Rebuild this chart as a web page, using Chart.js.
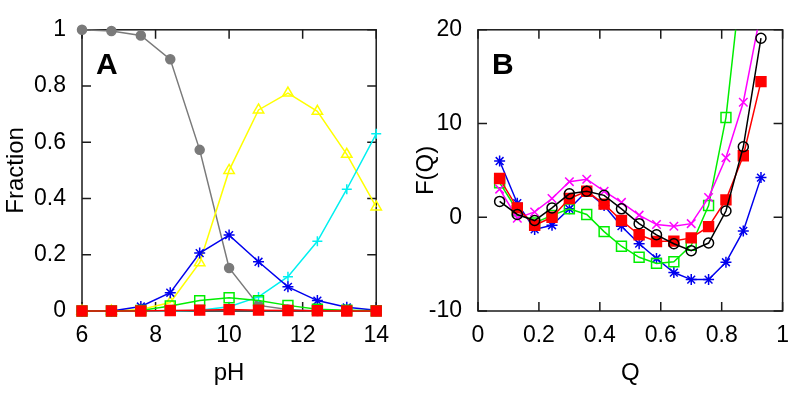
<!DOCTYPE html>
<html>
<head>
<meta charset="utf-8">
<script src="https://cdn.jsdelivr.net/npm/chart.js@4.4.1/dist/chart.umd.min.js"></script>
<style>
    html, body { margin: 0; padding: 0; background: #fff; }
    #wrap { position: relative; width: 800px; height: 395px; }
    .panel { position: absolute; top: 0; width: 400px; height: 395px; }
</style>
</head>
<body>
<div id="wrap">
    <div class="panel" style="left:0"><canvas id="chartA"></canvas></div>
    <div class="panel" style="left:400px"><canvas id="chartB"></canvas></div>
</div>
<script>
// --- panel A: fraction vs pH ---
const phValues = [6, 6.8, 7.6, 8.4, 9.2, 10, 10.8, 11.6, 12.4, 13.2, 14];
const grayFrac = [1, 0.996, 0.98, 0.895, 0.573, 0.153, 0.02, 0.005, 0, 0, 0];
const yellowFrac = [0, 0, 0.005, 0.03, 0.172, 0.5, 0.715, 0.775, 0.71, 0.557, 0.37];
const cyanFrac = [0, 0, 0, 0, 0.003, 0.015, 0.05, 0.122, 0.248, 0.433, 0.63];
const blueFrac = [0, 0, 0.016, 0.065, 0.206, 0.27, 0.175, 0.086, 0.037, 0.013, 0.003];
const greenFrac = [0, 0, 0.002, 0.018, 0.037, 0.047, 0.037, 0.02, 0.006, 0.003, 0.001];
const redFrac = [0, 0, 0, 0.002, 0.003, 0.005, 0.003, 0.002, 0.001, 0, 0];

// --- panel B: free energy vs Q ---
const qValues = [0.071, 0.129, 0.186, 0.243, 0.300, 0.357, 0.414, 0.471, 0.529, 0.586, 0.643, 0.700, 0.757, 0.814, 0.871, 0.929];
const blueF = [6.0, 1.5, -1.3, -0.85, 0.9, 2.78, 1.25, -0.95, -2.82, -4.4, -5.9, -6.65, -6.65, -4.8, -1.46, 4.23];
const redF = [4.13, 1.0, -0.85, 0, 2.0, 2.78, 1.4, -0.35, -1.87, -2.58, -2.54, -2.2, -1.0, 1.86, 6.57, 14.47];
const blackF = [1.69, 0.3, -0.35, 1.0, 2.5, 2.78, 2.34, 0.9, -0.68, -1.87, -2.82, -3.56, -2.75, 0.67, 7.52, 19.1];
const magentaF = [3.0, -0.1, 0.57, 2.0, 3.8, 4.06, 2.78, 1.59, 0.23, -0.78, -0.95, -0.68, 2.1, 6.34, 12.27, 22.0];
const greenF = [3.69, 0.7, -0.6, 0.2, 0.9, 0.3, -1.53, -3.09, -4.27, -4.92, -4.75, -2.99, 1.25, 10.64, 27.4, null];

const xTicksA = { min: 6, max: 14, step: 2 };
const yTicksA = { min: 0, max: 1, step: 0.2 };
const xTicksB = { min: 0, max: 1, step: 0.2 };
const yTicksB = { min: -10, max: 20, step: 10 };

const FONT = 'Liberation Sans, Arial, Helvetica, sans-serif';

function pts(xs, ys) {
    return xs.map((x, i) => ({ x, y: ys[i] }));
}

// plain number labels: 1 not 1.0
const fmt = v => String(Math.round(v * 100) / 100);

function series(label, xs, ys, color, style, radius, filled, order) {
    return {
        label,
        data: pts(xs, ys),
        borderColor: color,
        backgroundColor: filled ? color : 'rgba(0,0,0,0)',
        pointBackgroundColor: filled ? color : 'rgba(0,0,0,0)',
        pointBorderColor: color,
        pointStyle: style,
        pointRadius: radius,
        pointBorderWidth: 1.5,
        borderWidth: 1.5,
        tension: 0,
        spanGaps: false,
        order
    };
}

// frame box + inward ticks on all four sides
const frameTicks = {
    id: 'frameTicks',
    beforeDatasetsDraw(chart) {
        const { ctx, chartArea: a, scales: { x, y } } = chart;
        const len = 9;
        ctx.save();
        ctx.strokeStyle = '#1a1a1a';
        ctx.lineWidth = 1.5;
        ctx.strokeRect(a.left, a.top, a.right - a.left, a.bottom - a.top);
        ctx.beginPath();
        x.ticks.forEach(t => {
            const px = x.getPixelForValue(t.value);
            ctx.moveTo(px, a.bottom); ctx.lineTo(px, a.bottom - len);
            ctx.moveTo(px, a.top); ctx.lineTo(px, a.top + len);
        });
        y.ticks.forEach(t => {
            const py = y.getPixelForValue(t.value);
            ctx.moveTo(a.left, py); ctx.lineTo(a.left + len, py);
            ctx.moveTo(a.right, py); ctx.lineTo(a.right - len, py);
        });
        ctx.stroke();
        ctx.restore();
    },
    afterDraw(chart, args, opts) {
        const { ctx, chartArea: a } = chart;
        ctx.save();
        ctx.fillStyle = '#000';
        ctx.font = 'bold 30px ' + FONT;
        ctx.textBaseline = 'alphabetic';
        ctx.fillText(opts.letter, a.left + 14, a.top + 44);
        ctx.restore();
    }
};

function makeOptions(xr, yr, xTitle, yTitle, yWidth, rightPad, letter, yTitlePad) {
    return {
        responsive: false,
        animation: false,
        layout: { padding: { top: 16, right: rightPad, left: 0, bottom: 0 } },
        plugins: { legend: { display: false }, tooltip: { enabled: false }, frameTicks: { letter } },
        scales: {
            x: {
                type: 'linear', min: xr.min, max: xr.max,
                ticks: { stepSize: xr.step, color: '#000', font: { family: FONT, size: 23 }, padding: 11, maxRotation: 0, callback: fmt },
                grid: { display: false, drawTicks: false },
                border: { display: false },
                title: { display: true, text: xTitle, color: '#000', font: { family: FONT, size: 24 }, padding: { top: 0, bottom: 7 } },
                afterFit: s => { s.height = 84; }
            },
            y: {
                type: 'linear', min: yr.min, max: yr.max,
                ticks: { stepSize: yr.step, color: '#000', font: { family: FONT, size: 23 }, padding: 16, callback: fmt },
                grid: { display: false, drawTicks: false },
                border: { display: false },
                title: { display: true, text: yTitle, color: '#000', font: { family: FONT, size: 24 }, padding: { top: yTitlePad, bottom: 0 } },
                afterFit: s => { s.width = yWidth; }
            }
        }
    };
}

const dataA = [
    series('gray', phValues, grayFrac, '#7a7a7a', 'circle', 4.5, true, 6),
    series('yellow', phValues, yellowFrac, '#ffff00', 'triangle', 6, false, 5),
    series('cyan', phValues, cyanFrac, '#00f0f0', 'cross', 5, false, 4),
    series('blue', phValues, blueFrac, '#0000ee', 'star', 5.5, false, 3),
    series('green', phValues, greenFrac, '#00ee00', 'rect', 7, false, 2),
    series('red', phValues, redFrac, '#ff0000', 'rect', 7, true, 1)
];

const dataB = [
    series('blue', qValues, blueF, '#0000ee', 'star', 5.5, false, 5),
    series('green', qValues, greenF, '#00ee00', 'rect', 7, false, 4),
    series('magenta', qValues, magentaF, '#ff00ff', 'crossRot', 6, false, 3),
    series('red', qValues, redF, '#ff0000', 'rect', 7, true, 2),
    series('black', qValues, blackF, '#000000', 'circle', 5, false, 1)
];
dataA.forEach(d => d.clip = false);
dataB.forEach(d => d.clip = { left: 10, right: 10, top: 0, bottom: 10 });

const canvasA = document.getElementById('chartA');
canvasA.width = 400; canvasA.height = 395;
new Chart(canvasA, {
    type: 'line',
    data: { datasets: dataA },
    options: makeOptions(xTicksA, yTicksA, 'pH', 'Fraction', 82, 8, 'A', 2),
    plugins: [frameTicks]
});

const canvasB = document.getElementById('chartB');
canvasB.width = 400; canvasB.height = 395;
new Chart(canvasB, {
    type: 'line',
    data: { datasets: dataB },
    options: makeOptions(xTicksB, yTicksB, 'Q', 'F(Q)', 78, 13, 'B', 12),
    plugins: [frameTicks]
});
</script>
</body>
</html>
